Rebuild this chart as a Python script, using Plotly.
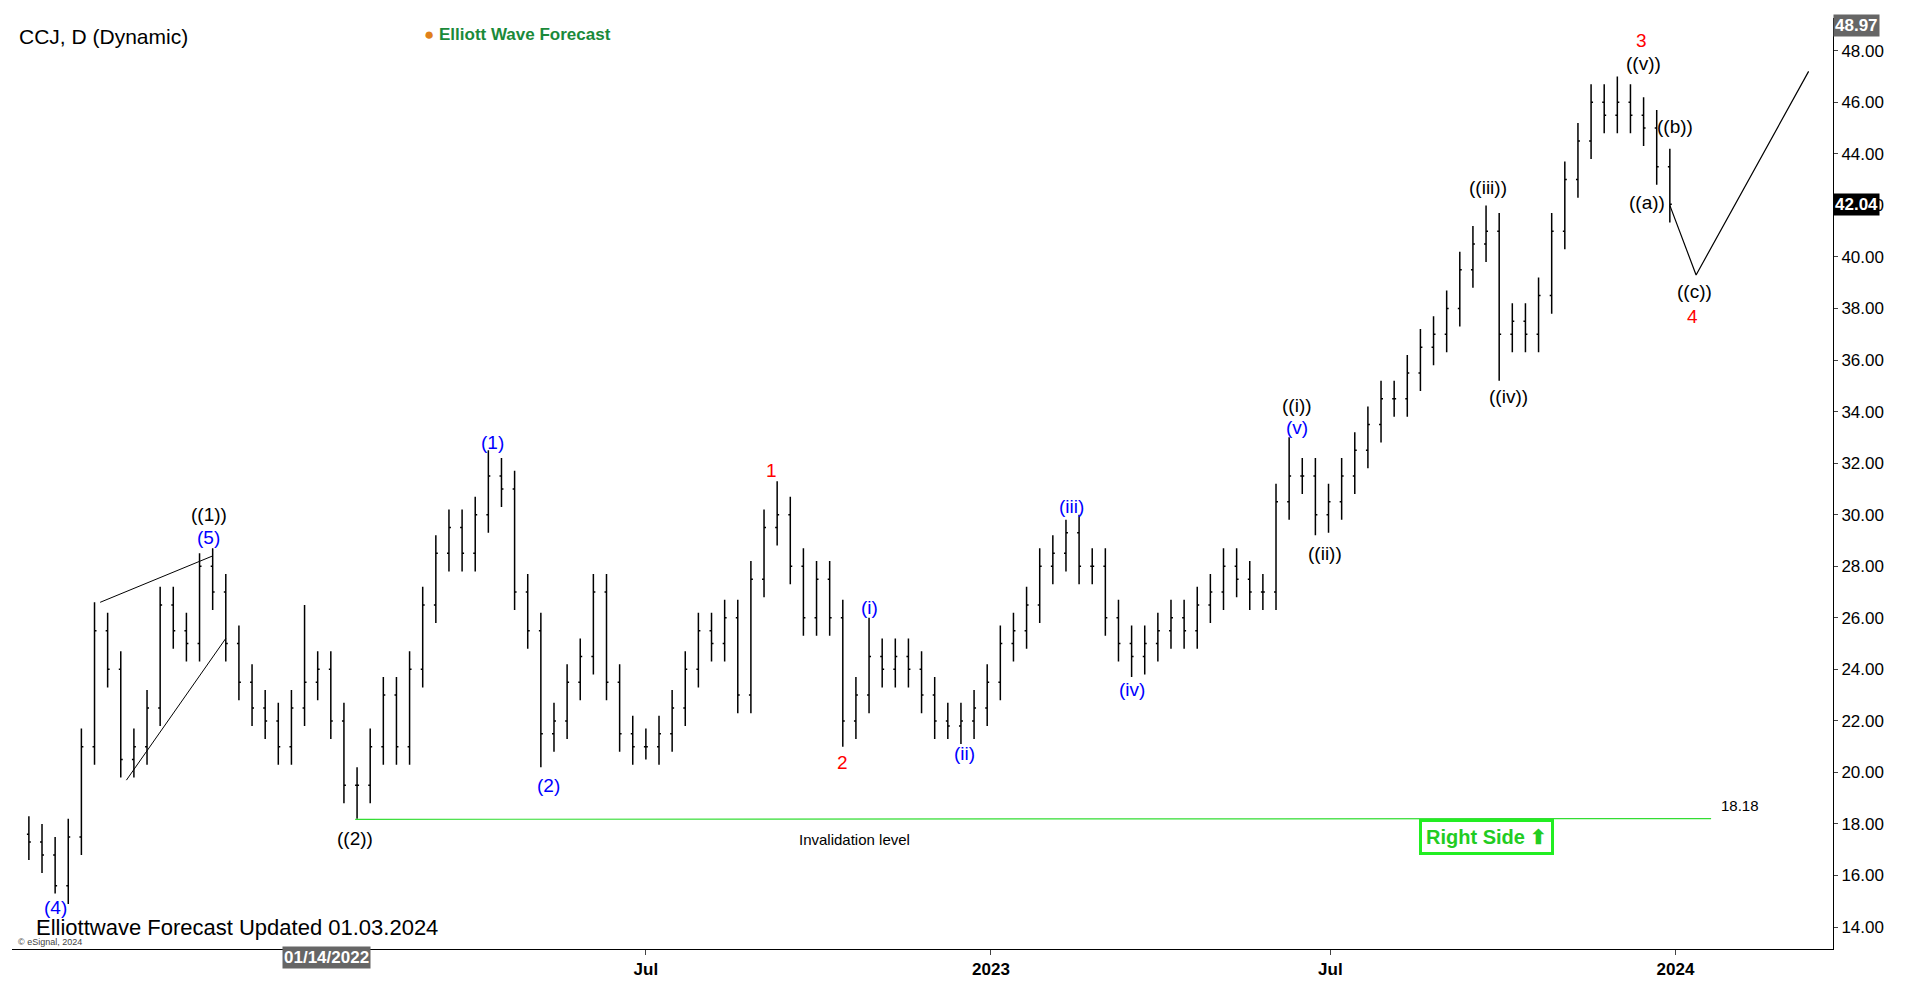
import pandas as pd
import plotly.graph_objects as go

# weekly bars (CCJ)
closes = [17.3, 16.8, 15.6, 17.5, 21, 25.5, 24, 20.5, 21, 22.5,
          26.5, 25.5, 25, 28, 27, 25, 23.5, 22.5, 22, 21,
          22.5, 23.5, 24, 22, 19.5, 19.5, 21, 23, 21, 24,
          26.5, 28.5, 29.5, 28.5, 30, 31.5, 31, 27, 25.5, 21.5,
          22, 23.5, 24.5, 27, 23.5, 21.5, 21, 21, 21.5, 22.5,
          24, 25.5, 25, 26, 23, 27.5, 29.5, 30, 28, 26,
          27.5, 26, 22, 23, 24.5, 24, 24.5, 24, 23, 22,
          21.8, 22, 22.5, 23.5, 25, 25.5, 26.5, 28, 28.5, 29.3,
          28, 28, 26, 25, 24.5, 25, 25.5, 26, 25.5, 26.5,
          27, 28, 27.5, 27, 27, 30.5, 31.5, 31.5, 30, 30.5,
          31.5, 32.5, 33.5, 34.5, 34.5, 35.5, 36.5, 37, 38, 39.5,
          40.5, 41, 37, 37.5, 37, 38.5, 41, 43, 44.5, 46,
          45.5, 46, 45.5, 45, 43.5, 42.04]
opens = [17.6] + closes[:-1]
# extreme highs / lows by week index
high_marks = {5: 26.6, 13: 28.5, 21: 26.5, 35: 32.5, 57: 31.3, 64: 26.0,
              79: 29.8, 96: 33.0, 111: 42.0, 121: 47.0}
low_marks = {2: 15.3, 25: 18.2, 39: 20.2, 47: 20.5, 62: 21.0, 70: 21.3,
             84: 23.7, 98: 29.2, 112: 35.2}
dates = pd.date_range("2021-08-06", periods=len(closes), freq="7D")
highs = [high_marks.get(i, max(o, c) + 0.7) for i, (o, c) in enumerate(zip(opens, closes))]
lows = [low_marks.get(i, min(o, c) - 0.7) for i, (o, c) in enumerate(zip(opens, closes))]

invalidation = 18.18
last_price = 42.04
proj_dates = ["2023-12-29", "2024-01-12", "2024-03-12"]
proj_prices = [42.0, 39.3, 47.2]

fig = go.Figure()
fig.add_trace(go.Ohlc(x=dates, open=opens, high=highs, low=lows, close=closes,
                      increasing_line_color="black", decreasing_line_color="black",
                      line_width=1.5, tickwidth=0.15, showlegend=False, hoverinfo="skip"))
# ending diagonal lines
fig.add_trace(go.Scatter(x=["2021-09-13", "2021-11-12"], y=[26.6, 28.4], mode="lines",
                         line=dict(color="black", width=1), showlegend=False))
fig.add_trace(go.Scatter(x=["2021-09-27", "2021-11-19"], y=[19.7, 25.2], mode="lines",
                         line=dict(color="black", width=1), showlegend=False))
fig.add_trace(go.Scatter(x=proj_dates, y=proj_prices, mode="lines",
                         line=dict(color="black", width=1.2), showlegend=False))
fig.add_trace(go.Scatter(x=["2022-01-27", "2024-01-20"], y=[invalidation, invalidation + 0.03],
                         mode="lines", line=dict(color="#33dd33", width=1.2), showlegend=False))

labels = [
    ("2021-08-20", 14.75, "(4)", "blue"), ("2021-11-10", 30.0, "((1))", "black"),
    ("2021-11-10", 29.1, "(5)", "blue"), ("2022-01-27", 17.45, "((2))", "black"),
    ("2022-04-10", 32.8, "(1)", "blue"), ("2022-05-10", 19.5, "(2)", "blue"),
    ("2022-09-06", 31.7, "1", "red"), ("2022-10-14", 20.4, "2", "red"),
    ("2022-10-28", 26.4, "(i)", "blue"), ("2022-12-18", 20.75, "(ii)", "blue"),
    ("2023-02-13", 30.3, "(iii)", "blue"), ("2023-03-17", 23.2, "(iv)", "blue"),
    ("2023-06-13", 34.25, "((i))", "black"), ("2023-06-13", 33.4, "(v)", "blue"),
    ("2023-06-28", 28.5, "((ii))", "black"), ("2023-09-23", 42.7, "((iii))", "black"),
    ("2023-10-04", 34.6, "((iv))", "black"), ("2023-12-14", 48.4, "3", "red"),
    ("2023-12-15", 47.5, "((v))", "black"), ("2024-01-01", 45.05, "((b))", "black"),
    ("2023-12-17", 42.1, "((a))", "black"), ("2024-01-11", 38.67, "((c))", "black"),
    ("2024-01-10", 37.7, "4", "red"),
]
for x, y, t, c in labels:
    fig.add_annotation(x=x, y=y, text=t, showarrow=False,
                       font=dict(family="Arial", size=19, color=c))
fig.add_annotation(x="2024-01-24", y=invalidation + 0.55, text="18.18", showarrow=False,
                   xanchor="left", font=dict(family="Arial", size=15, color="black"))
fig.add_annotation(x="2022-10-20", y=17.4, text="Invalidation level", showarrow=False,
                   font=dict(family="Arial", size=15, color="black"))
fig.add_annotation(x="2023-09-22", y=17.5, text="<b>Right Side ⬆</b>", showarrow=False,
                   font=dict(family="Arial", size=20, color="#22cc22"),
                   bordercolor="#22ee22", borderwidth=3, borderpad=4, bgcolor="white")
fig.add_annotation(xref="paper", yref="paper", x=0.003, y=0.995, text="CCJ, D (Dynamic)",
                   showarrow=False, xanchor="left", yanchor="top",
                   font=dict(family="Arial", size=21, color="black"))
fig.add_annotation(xref="paper", yref="paper", x=0.225, y=0.995,
                   text="<b><span style='color:#e0801a'>●</span> Elliott Wave Forecast</b>",
                   showarrow=False, xanchor="left", yanchor="top",
                   font=dict(family="Arial", size=17, color="#1a8a3a"))
fig.add_annotation(xref="paper", yref="paper", x=0.012, y=0.008,
                   text="Elliottwave Forecast Updated 01.03.2024", showarrow=False,
                   xanchor="left", yanchor="bottom",
                   font=dict(family="Arial", size=22, color="black"))
fig.add_annotation(xref="paper", yref="paper", x=0.002, y=0.0, text="© eSignal, 2024",
                   showarrow=False, xanchor="left", yanchor="bottom",
                   font=dict(family="Arial", size=9, color="#444"))
# price flags on the right axis
fig.add_annotation(xref="paper", x=1.0, y=last_price, text="<b>42.04</b>", showarrow=False,
                   xanchor="left", bgcolor="black", font=dict(family="Arial", size=17, color="white"))
fig.add_annotation(xref="paper", x=1.0, y=48.97, text="<b>48.97</b>", showarrow=False,
                   xanchor="left", bgcolor="#666", font=dict(family="Arial", size=17, color="white"))
fig.add_annotation(xref="paper", yref="paper", x=0.0, y=0.0, yshift=-20, text="<b>01/14/2022</b>",
                   showarrow=False, xanchor="left", xshift=270, bgcolor="#666",
                   font=dict(family="Arial", size=17, color="white"))

tick_vals = ["2022-07-01", "2023-01-01", "2023-07-01", "2024-01-01"]
tick_text = ["<b>Jul</b>", "<b>2023</b>", "<b>Jul</b>", "<b>2024</b>"]
fig.update_layout(
    width=1912, height=981, paper_bgcolor="white", plot_bgcolor="white",
    margin=dict(l=4, r=87, t=10, b=40),
    xaxis=dict(range=["2021-07-28", "2024-03-25"], rangeslider_visible=False, showgrid=False,
               tickvals=tick_vals, ticktext=tick_text, ticks="outside", ticklen=5,
               showline=True, linecolor="black", tickfont=dict(family="Arial", size=17, color="black")),
    yaxis=dict(range=[13.15, 49.27], side="right", showgrid=False, dtick=2, tick0=14,
               tickformat=".2f", ticks="outside", ticklen=4, showline=True, linecolor="black",
               tickfont=dict(family="Arial", size=17, color="black")),
)
fig.write_html("out.html")
